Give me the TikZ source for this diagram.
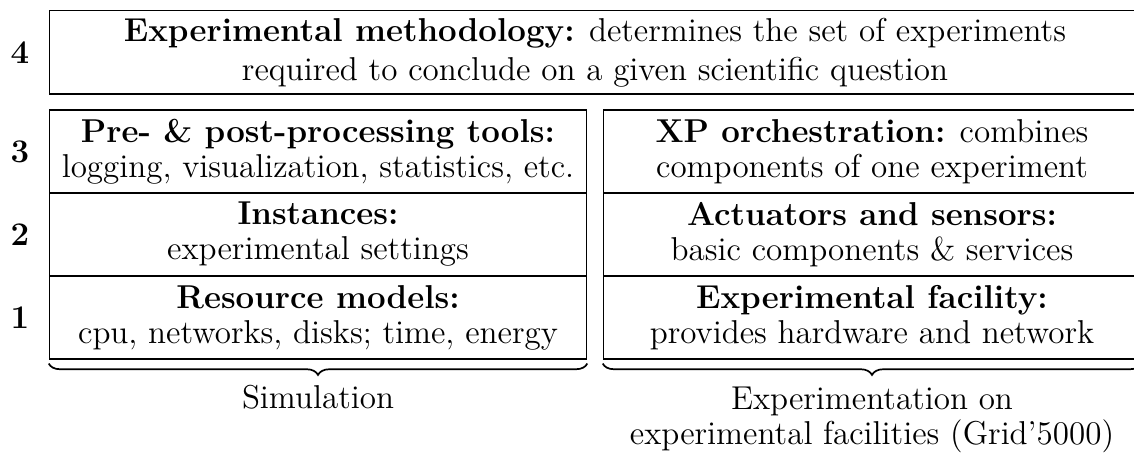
\documentclass[tikz,border=0pt]{standalone}
\usetikzlibrary{decorations.pathreplacing}
\begin{document}
\begin{tikzpicture}[x=0.3509pt,y=-0.3509pt,
  font=\fontsize{11.6}{12.3}\selectfont,
  layerbox/.style={draw, line width=0.4pt, inner sep=0pt, align=center,
    minimum width=188.6pt, minimum height=29.1pt},
  topbox/.style={draw, line width=0.4pt, inner sep=0pt, align=center,
    minimum width=383.0pt, minimum height=29.2pt, font=\fontsize{11.6}{13.7}\selectfont},
  levelnum/.style={inner sep=0pt, font=\fontsize{11.6}{12.3}\selectfont\bfseries},
  bracestyle/.style={decorate, decoration={brace, mirror, amplitude=4pt}, line width=0.6pt},
  grouplabel/.style={inner sep=0pt, align=center}]
\useasboundingbox (0,0) rectangle (1134,455);
% top layer
\node[topbox] (top) at (595,52.35) {\textbf{Experimental methodology:} determines the set of experiments\\required to conclude on a given scientific question};
% left column
\node[layerbox] (l3) at (318,151.5) {\textbf{Pre- \& post-processing tools:}\\logging, visualization, statistics, etc.};
\node[layerbox] (l2) at (318,234.5) {\textbf{Instances:}\\experimental settings};
\node[layerbox] (l1) at (318,317.5) {\textbf{Resource models:}\\cpu, networks, disks; time, energy};
% right column
\node[layerbox] (r3) at (872,151.5) {\textbf{XP orchestration:} combines\\components of one experiment};
\node[layerbox] (r2) at (872,234.5) {\textbf{Actuators and sensors:}\\basic components \& services};
\node[layerbox] (r1) at (872,317.5) {\textbf{Experimental facility:}\\provides hardware and network};
% level numbers
\node[levelnum] (n4) at (20,52.35) {4};
\node[levelnum] (n3) at (20,151.5) {3};
\node[levelnum] (n2) at (20,234.5) {2};
\node[levelnum] (n1) at (20,317.5) {1};
% braces
\draw[bracestyle] ([yshift=-1.4pt]l1.south west) -- ([yshift=-1.4pt]l1.south east);
\draw[bracestyle] ([yshift=-1.4pt]r1.south west) -- ([yshift=-1.4pt]r1.south east);
% group labels
\node[grouplabel, anchor=base] (sim) at (318,408) {Simulation};
\node[grouplabel, anchor=north] (exp) at (872,386) {Experimentation on\\experimental facilities (Grid'5000)};
\end{tikzpicture}
\end{document}
